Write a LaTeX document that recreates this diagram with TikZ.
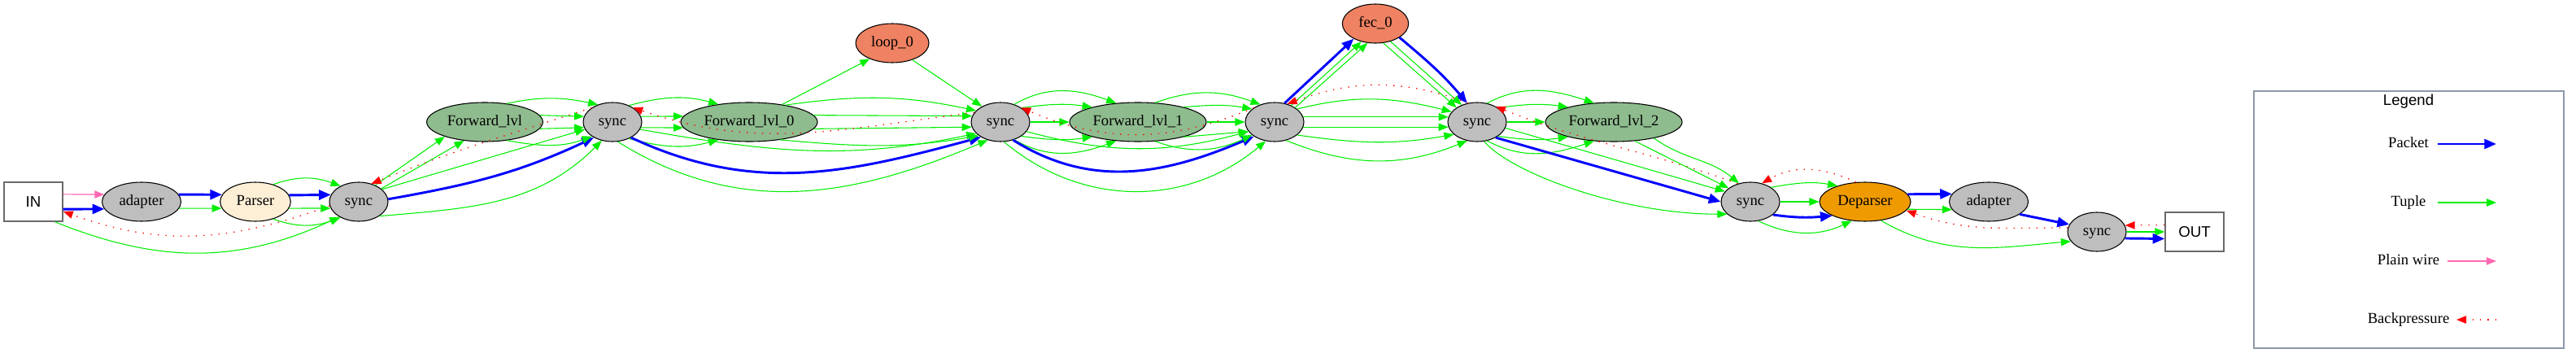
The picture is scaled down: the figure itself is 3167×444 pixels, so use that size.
\documentclass[tikz,border=0pt]{standalone}
\usepackage{fontspec}
\setmainfont{Liberation Serif}
\setsansfont{Liberation Sans}
\usetikzlibrary{arrows.meta,shapes.geometric}
\definecolor{cgreen}{HTML}{00EE00}
\definecolor{cblue}{HTML}{0000FF}
\definecolor{cpink}{HTML}{FF69B4}
\definecolor{cred}{HTML}{FF0000}
\definecolor{cgray}{HTML}{BEBEBE}
\definecolor{cfwd}{HTML}{8FBC8F}
\definecolor{csalmon}{HTML}{EE8262}
\definecolor{cparser}{HTML}{FDEFD6}
\definecolor{corange}{HTML}{EE9A00}
\definecolor{ciobd}{HTML}{6A6A6A}
\definecolor{clegend}{HTML}{8C99A8}
\begin{document}
\begin{tikzpicture}[x=0.75pt,y=0.75pt,
  lbl/.style={font=\fontsize{14}{16}\selectfont, inner sep=0pt, text height=10pt, text depth=3pt},
  proc/.style={lbl, ellipse, draw=black, line width=0.8pt, minimum height=36pt},
  syncn/.style={proc, fill=cgray, minimum width=54pt},
  fwd/.style={proc, fill=cfwd, minimum width=126pt},
  io/.style={rectangle, draw=ciobd, line width=1.1pt, fill=white, minimum width=54pt, minimum height=36pt,
    inner sep=0pt, text height=10pt, text depth=0pt, font=\sffamily\fontsize{14}{16}\selectfont},
  pkt/.style={draw=cblue, line width=2.2pt, -{Triangle[length=11pt,width=9pt]}},
  tup/.style={draw=cgreen, line width=0.8pt, -{Triangle[length=9pt,width=7pt]}},
  wire/.style={draw=cpink, line width=0.9pt, -{Triangle[length=9pt,width=7pt]}},
  bp/.style={draw=cred, line width=1pt, dash pattern=on 1pt off 6pt, -{Triangle[length=9pt,width=7pt]}},
]
\useasboundingbox (0,0) rectangle (3167,444);

% nodes
\node[io] (IN) at (41,196) {IN};
\node[proc, fill=cgray, minimum width=72.75pt] (adA) at (174,196) {adapter};
\node[proc, fill=cparser, minimum width=65pt] (parser) at (314,196) {Parser};
\node[syncn] (s1) at (441,196) {sync};
\node[fwd, minimum width=107pt] (fl) at (596,294) {Forward\_lvl};
\node[syncn] (s2) at (753,294) {sync};
\node[fwd] (fl0) at (921,294) {Forward\_lvl\_0};
\node[proc, fill=csalmon, minimum width=67.5pt] (loop) at (1097,391) {loop\_0};
\node[syncn] (s3) at (1230,294) {sync};
\node[fwd] (fl1) at (1399,294) {Forward\_lvl\_1};
\node[syncn] (s4) at (1567,294) {sync};
\node[proc, fill=csalmon, minimum width=61pt] (fec) at (1691,415) {fec\_0};
\node[syncn] (s5) at (1816,294) {sync};
\node[fwd] (fl2) at (1984,294) {Forward\_lvl\_2};
\node[syncn] (s6) at (2152,196) {sync};
\node[proc, fill=corange, minimum width=84pt] (dep) at (2293,196) {Deparser};
\node[proc, fill=cgray, minimum width=72.75pt] (adB) at (2445,196) {adapter};
\node[syncn] (s7) at (2578,159) {sync};
\node[io] (OUT) at (2698,159) {OUT};

% IN - adapter - parser - sync1
\draw[wire] (IN.14) -- (adA.169);
\draw[pkt] (IN.-14) -- (adA.191);
\draw[bp] (s1.188) to[out=200,in=-20] (IN.-18);
\draw[tup] (IN.-43) to[out=-22,in=205] (s1.218);
\draw[pkt] (adA.11) -- (parser.168);
\draw[tup] (adA.-10) -- (parser.-169);
\draw[tup] (parser.44) to[out=20,in=160] (s1.139);
\draw[pkt] (parser.11) -- (s1.166);
\draw[tup] (parser.-11) -- (s1.-167);
\draw[tup] (parser.-44) to[out=-20,in=200] (s1.-139);

% sync1 - Forward_lvl - sync2
\draw[tup] (s1.45) -- (fl.200);
\draw[tup] (s1.30) -- (fl.222);
\draw[bp] (s2.146) to[out=198,in=22] (s1.55);
\draw[tup] (s1.28) -- (s2.195);
\draw[pkt] (s1.5) to[out=10,in=205] (s2.220);
\draw[tup] (s1.-35) to[out=5,in=225] (s2.240);
\draw[tup] (fl.40) to[out=12,in=168] (s2.130);
\draw[tup] (fl.7) -- (s2.169);
\draw[tup] (fl.-7) -- (s2.-169);
\draw[tup] (fl.-40) to[out=-10,in=200] (s2.215);

% sync2 - Forward_lvl_0 - sync3
\draw[tup] (s2.45) to[out=15,in=165] (fl0.150);
\draw[tup] (s2.11) -- (fl0.175);
\draw[tup] (s2.-11) -- (fl0.185);
\draw[tup] (s2.-45) to[out=-15,in=195] (fl0.210);
\draw[tup] (s2.-15) to[out=-10,in=192] (s3.205);
\draw[pkt] (s2.-40) to[out=-25,in=195] (s3.218);
\draw[tup] (s2.-75) to[out=-32,in=203] (s3.235);
\draw[tup] (fl0.28) -- (loop.215);
\draw[tup] (loop.-40) -- (s3.140);
\draw[tup] (fl0.25) to[out=8,in=168] (s3.155);
\draw[tup] (fl0.6) -- (s3.168);
\draw[tup] (fl0.-6) -- (s3.-170);
\draw[tup] (fl0.-30) to[out=-5,in=190] (s3.212);
\draw[bp] (s3.160) to[out=187,in=-19] (s2.35);

% sync3 - Forward_lvl_1 - sync4
\draw[tup] (s3.52) to[out=30,in=160] (fl1.139);
\draw[tup] (s3.34) to[out=8,in=172] (fl1.162);
\draw[tup] (s3.east) -- (fl1.west);
\draw[tup] (s3.-34) to[out=-8,in=188] (fl1.-162);
\draw[tup] (s3.-52) to[out=-30,in=200] (fl1.-139);
\draw[tup] (s3.-20) to[out=-15,in=195] (s4.200);
\draw[pkt] (s3.-55) to[out=-32,in=203] (s4.215);
\draw[tup] (s3.-80) to[out=-40,in=220] (s4.245);
\draw[tup] (fl1.48) to[out=20,in=160] (s4.129);
\draw[tup] (fl1.18) to[out=5,in=170] (s4.150);
\draw[tup] (fl1.east) -- (s4.west);
\draw[tup] (fl1.-18) -- (s4.-160);
\draw[tup] (fl1.-48) to[out=-20,in=205] (s4.-150);
\draw[bp] (s4.145) to[out=203,in=-23] (s3.35);

% sync4 - fec_0 - sync5
\draw[pkt] (s4.62) -- (fec.215);
\draw[tup] (s4.45) -- (fec.232);
\draw[tup] (s4.35) -- (fec.248);
\draw[pkt] (fec.-30) to[out=-40,in=130] (s5.118);
\draw[tup] (fec.-50) -- (s5.132);
\draw[tup] (fec.-68) -- (s5.145);
\draw[tup] (s4.30) to[out=14,in=166] (s5.158);
\draw[tup] (s4.10) -- (s5.170);
\draw[tup] (s4.-10) -- (s5.-170);
\draw[tup] (s4.-30) to[out=-8,in=190] (s5.-152);
\draw[tup] (s4.-58) to[out=-22,in=202] (s5.-118);
\draw[bp] (s5.115) to[out=160,in=20] (s4.55);

% sync5 - Forward_lvl_2 - sync6
\draw[tup] (s5.62) to[out=28,in=162] (fl2.136);
\draw[tup] (s5.34) to[out=8,in=172] (fl2.162);
\draw[tup] (s5.east) -- (fl2.west);
\draw[tup] (s5.-34) to[out=-8,in=188] (fl2.-162);
\draw[tup] (s5.-62) to[out=-28,in=198] (fl2.-136);
\draw[bp] (s6.125) to[out=160,in=-22] (s5.40);
\draw[tup] (fl2.-22) to[out=-35,in=140] (s6.122);
\draw[tup] (fl2.-42) -- (s6.148);
\draw[tup] (s5.-12) -- (s6.158);
\draw[pkt] (s5.-40) -- (s6.west);
\draw[tup] (s5.-70) .. controls +(-50:50) and +(180:130) .. (s6.208);

% sync6 - Deparser - adapter - sync7 - OUT
\draw[tup] (s6.35) to[out=10,in=170] (dep.150);
\draw[tup] (s6.east) -- (dep.west);
\draw[pkt] (s6.-30) to[out=-8,in=185] (dep.203);
\draw[tup] (s6.-68) to[out=-25,in=205] (dep.235);
\draw[bp] (dep.115) to[out=155,in=30] (s6.58);
\draw[pkt] (dep.10) -- (adB.168);
\draw[tup] (dep.-10) -- (adB.-168);
\draw[pkt] (adB.-22) -- (s7.165);
\draw[tup] (dep.-50) to[out=-30,in=185] (s7.200);
\draw[bp] (s7.172) to[out=180,in=-20] (dep.-12);
\draw[bp] (OUT.167) -- (s7.13);
\draw[tup] (s7.east) -- (OUT.west);
\draw[pkt] (s7.-13) -- (OUT.193);

% legend
\node[draw=clegend, line width=1.1pt, minimum width=285.75pt, minimum height=237pt, inner sep=0pt] (legend) at (2961.5,174) {};
\node[lbl, font=\sffamily\fontsize{14}{16}\selectfont] (legtitle) at (2961,319) {Legend};
\node[lbl] (lpkt) at (2961,267) {Packet};
\node[lbl] (ltup) at (2961,195) {Tuple};
\node[lbl] (lwire) at (2961,123) {Plain wire};
\node[lbl] (lbp) at (2961,51) {Backpressure};
\coordinate (lpktA) at (2997,267); \coordinate (lpktB) at (3069,267);
\coordinate (ltupA) at (2997,195); \coordinate (ltupB) at (3069,195);
\coordinate (lwireA) at (3009,123); \coordinate (lwireB) at (3069,123);
\coordinate (lbpA) at (3069,51); \coordinate (lbpB) at (3020,51);
\draw[pkt] (lpktA) -- (lpktB);
\draw[tup] (ltupA) -- (ltupB);
\draw[wire] (lwireA) -- (lwireB);
\draw[bp] (lbpA) -- (lbpB);
\end{tikzpicture}
\end{document}
